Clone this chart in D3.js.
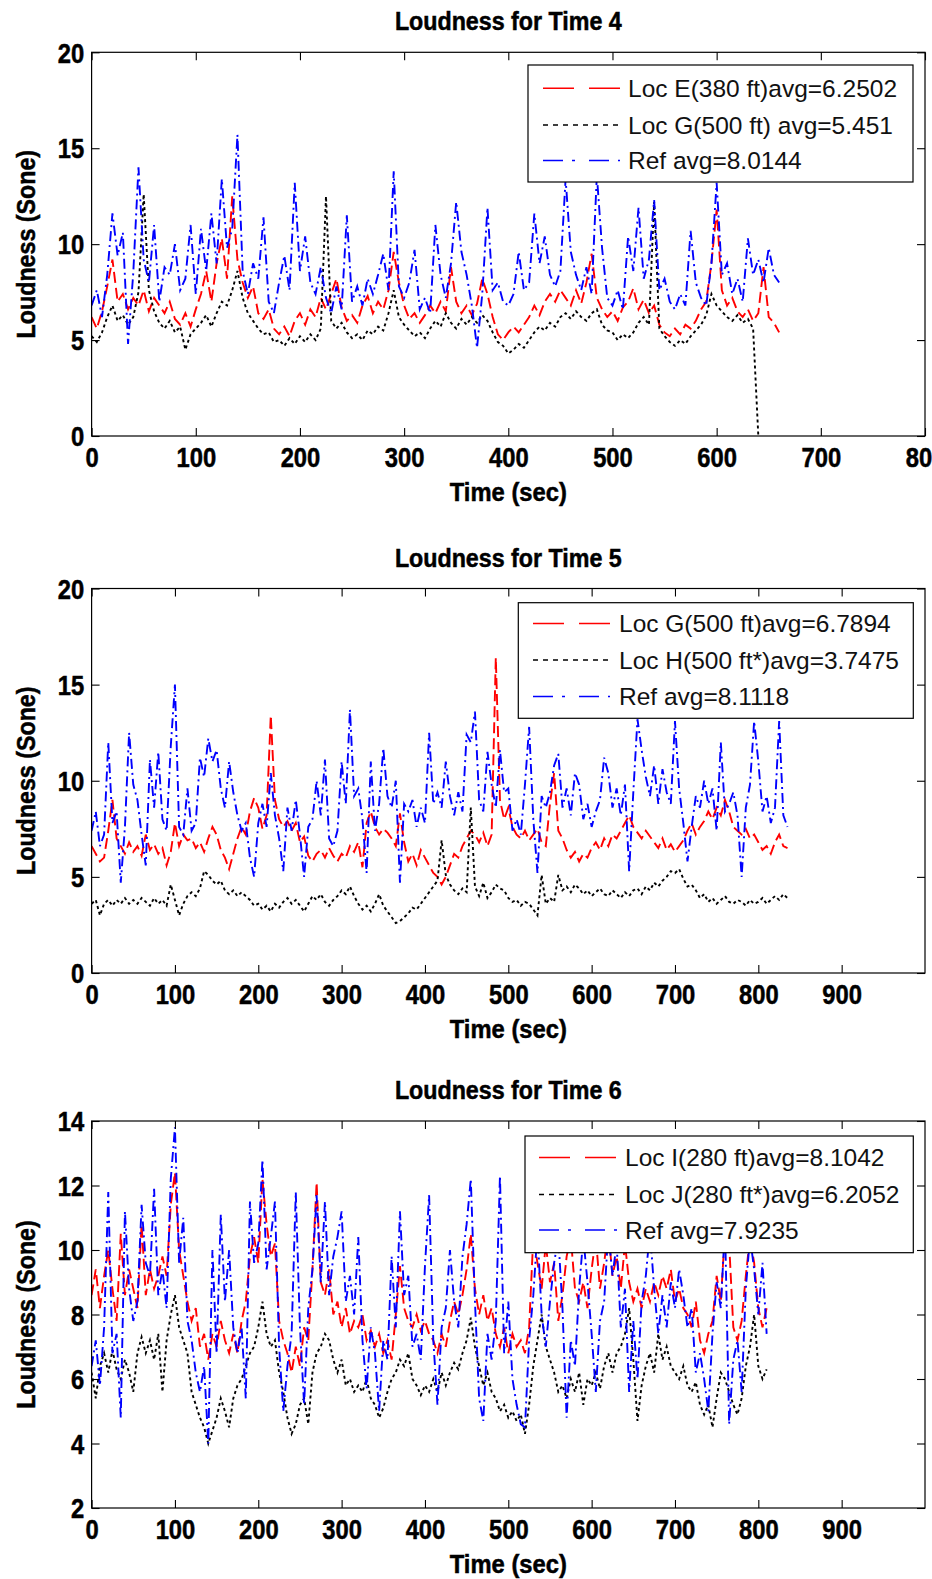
<!DOCTYPE html>
<html><head><meta charset="utf-8">
<script src="https://cdn.jsdelivr.net/npm/d3@7"></script>
<style>body{margin:0;background:#fff}svg{display:block}</style>
</head><body>
<script>
// sampling interval of every series (seconds)
const STEP = 5;

// ---------- Time 4 ----------
const t4Red = [
6.2,5.6,6.5,7.8,9.2,7.0,7.4,6.6,7.2,6.8,
7.6,6.5,7.2,6.8,6.4,7.0,6.1,5.8,6.4,5.7,
6.6,7.4,8.6,7.0,9.0,10.3,8.2,12.5,9.2,8.0,
7.2,7.8,6.4,6.1,6.6,5.6,5.3,5.7,5.2,6.0,
6.4,5.8,6.6,6.2,7.2,6.6,7.4,8.2,6.7,6.0,
6.3,5.9,6.8,7.3,6.4,7.0,6.6,7.6,9.6,8.0,
6.8,6.1,6.4,5.9,6.3,6.8,6.4,7.0,6.5,8.8,
7.0,6.4,6.8,6.3,6.9,8.2,7.4,6.2,5.3,5.0,
5.4,5.7,5.4,5.8,6.2,6.8,6.3,7.0,7.4,7.0,
7.6,7.2,6.8,7.6,6.9,8.0,9.5,7.2,6.6,6.2,
6.5,6.0,6.7,7.0,7.7,6.6,7.1,6.4,6.8,5.8,
5.4,5.2,5.6,5.3,5.8,5.6,6.0,6.6,7.0,9.0,
11.8,7.6,6.8,7.2,6.5,6.2,6.6,6.0,6.4,8.8,
6.2,5.9,5.4];
const t4Black = [
5.2,4.9,5.4,6.2,6.8,6.0,6.3,5.8,6.2,7.5,
12.6,7.6,6.5,5.9,5.6,6.0,5.4,5.7,4.5,5.3,
5.6,5.9,6.3,5.7,6.4,7.0,6.8,7.6,8.6,7.2,
6.4,6.0,5.6,5.3,5.4,4.9,5.0,4.7,5.1,4.8,
5.2,4.9,5.3,5.0,5.6,12.5,6.0,5.6,5.9,5.4,
5.1,5.3,5.0,5.5,5.3,5.7,5.5,6.4,7.6,6.2,
5.8,5.5,5.2,5.4,5.1,5.6,6.0,5.7,6.4,5.9,
5.6,6.1,5.8,6.2,5.9,6.3,6.0,5.4,4.9,4.7,
4.3,4.5,4.8,4.6,5.0,5.4,5.7,5.5,5.9,5.7,
6.2,6.4,6.1,6.5,6.2,6.0,6.4,6.6,5.8,5.5,
5.4,5.0,5.3,5.1,5.4,5.9,6.2,5.8,12.2,5.6,
5.2,4.9,4.7,5.0,4.8,5.2,5.5,5.8,6.3,7.4,
6.8,6.5,6.2,6.0,6.3,5.9,6.1,5.6,0];
const t4Ref = [
6.8,7.6,6.2,8.4,11.6,9.4,10.6,4.8,8.5,14.0,
9.2,8.0,11.0,7.0,8.8,8.4,10.0,7.6,8.2,11.0,
7.4,10.8,8.6,11.6,9.0,13.4,9.8,10.8,15.7,8.6,
7.4,9.0,8.2,11.4,7.0,6.4,8.0,9.4,7.6,13.2,
8.6,10.4,8.0,7.4,8.8,7.2,6.4,7.8,6.6,11.5,
7.0,7.8,6.8,8.2,7.4,8.4,9.5,7.6,13.8,7.8,
7.2,8.0,9.7,6.6,7.2,6.4,11.0,8.4,7.2,9.0,
12.2,9.6,8.4,6.8,4.6,7.4,11.9,7.6,8.0,7.0,
6.8,7.4,9.6,7.6,8.0,11.6,9.0,10.4,8.4,7.8,
8.6,13.4,9.6,8.4,7.6,8.8,7.4,13.6,9.8,7.2,
6.8,7.6,6.6,10.4,8.6,11.9,8.2,9.2,12.3,7.6,
8.2,7.0,6.6,7.4,6.8,10.7,8.0,7.2,6.8,9.0,
13.2,8.4,9.0,7.4,8.2,7.0,10.3,8.4,9.2,8.0,
9.8,8.4,8.0];

// ---------- Time 5 ----------
const t5Red = [
6.6,6.2,5.8,6.0,7.4,9.0,7.0,6.6,6.2,6.8,
6.3,6.6,6.1,7.2,6.4,6.7,6.2,6.5,5.6,6.3,
7.8,6.6,7.2,6.9,7.0,6.5,6.8,6.3,7.0,7.6,
7.2,6.4,6.0,5.4,6.2,7.0,7.6,7.2,8.4,9.1,
8.6,7.5,8.2,13.4,9.0,8.0,7.6,7.9,7.4,7.8,
6.8,7.1,6.1,5.8,6.2,6.4,6.0,6.5,6.1,5.8,
6.2,6.0,6.6,6.3,6.8,5.5,7.8,8.4,7.6,7.2,
7.5,7.3,7.0,6.6,8.3,6.8,5.8,6.2,5.6,6.4,
6.0,5.6,5.2,5.0,4.6,5.0,5.6,6.2,6.0,6.6,
7.0,7.4,7.2,6.8,7.3,6.6,7.2,16.4,9.0,8.0,
8.6,7.6,7.2,7.0,7.4,6.9,7.2,7.5,6.8,6.6,
8.8,10.4,7.4,7.0,6.4,6.0,6.3,5.8,6.2,6.0,
6.5,6.8,6.4,7.0,6.6,7.2,7.0,7.4,7.8,8.2,
7.6,7.3,7.0,7.4,7.1,6.8,6.5,7.0,6.4,6.7,
6.3,6.6,6.9,7.4,7.8,7.2,7.6,7.9,8.4,8.0,
8.6,8.2,9.0,8.4,7.6,7.4,7.2,7.5,7.0,7.2,
6.8,6.4,6.6,6.2,6.8,7.2,6.6,6.5];
const t5Black = [
3.6,3.8,3.0,3.6,3.8,3.5,3.8,3.6,3.9,3.6,
3.8,3.6,3.9,3.7,3.5,3.9,3.6,3.8,3.5,4.6,
3.8,3.0,3.6,4.0,4.2,4.0,4.4,5.3,5.1,4.8,
4.6,4.8,4.3,4.1,4.3,4.0,4.2,4.0,3.8,3.5,
3.6,3.3,3.5,3.2,3.6,3.4,3.7,3.9,3.6,3.8,
3.5,3.2,3.6,4.0,3.8,4.1,3.7,3.5,3.8,4.0,
4.3,4.1,4.5,4.0,3.6,3.3,3.5,3.2,3.6,4.1,
3.5,3.2,2.9,2.6,2.7,2.9,3.1,3.4,3.3,3.6,
3.9,4.2,4.5,4.8,6.9,5.1,4.6,4.3,4.1,4.4,
4.2,8.6,4.5,4.0,4.7,3.9,4.2,4.6,4.4,4.3,
3.9,3.7,3.8,3.5,3.7,3.6,3.3,3.0,5.1,3.6,
3.9,3.7,5.1,4.3,4.5,4.2,4.6,4.4,4.1,4.3,
4.0,4.2,4.4,4.1,4.0,4.3,4.1,3.9,4.2,4.0,
4.3,4.4,4.1,4.5,4.3,4.7,4.5,4.8,5.0,5.3,
5.2,5.4,4.9,4.5,4.6,4.3,3.9,4.1,3.7,3.9,
3.6,3.8,4.0,3.7,3.6,3.8,3.7,3.5,3.8,3.6,
3.7,3.9,3.6,3.8,4.0,3.8,4.1,3.9];
const t5Ref = [
7.4,8.4,6.6,7.2,12.0,7.8,8.4,4.7,7.6,12.5,
9.8,9.0,7.2,5.6,11.1,8.6,11.5,8.0,7.4,11.8,
15.0,7.6,7.2,9.6,7.4,7.8,11.2,10.2,12.2,11.0,
11.6,9.6,8.6,11.0,9.4,8.2,7.4,7.8,6.0,5.0,
7.8,8.8,7.6,10.4,8.2,7.0,5.3,8.6,7.4,9.0,
7.2,5.0,7.6,8.0,10.0,8.2,11.1,7.0,6.6,7.4,
11.0,8.8,13.7,9.2,9.6,8.0,5.2,11.0,7.4,8.8,
11.7,9.2,8.6,10.0,4.7,8.8,8.4,9.0,7.6,8.6,
7.8,12.5,8.8,9.4,8.6,11.0,9.2,8.2,9.4,8.4,
12.4,12.0,13.6,9.0,8.4,11.5,9.8,8.6,11.6,9.4,
9.6,7.4,8.0,7.2,9.8,12.8,8.0,5.2,9.2,8.6,
9.4,10.8,11.4,8.6,9.6,8.2,10.4,9.8,8.0,8.8,
7.6,8.4,9.0,11.2,10.4,8.6,9.6,8.2,9.8,5.3,
9.4,13.2,11.6,10.2,9.2,10.8,8.8,10.6,9.4,8.8,
13.1,9.6,7.8,5.8,7.6,9.2,8.6,10.0,8.8,9.6,
7.4,12.0,8.4,8.8,9.4,8.2,5.0,8.6,9.8,13.1,
11.0,8.4,9.2,7.8,8.6,13.1,8.2,7.6];

// ---------- Time 6 ----------
const t6Red = [
8.6,9.4,8.2,9.2,10.0,8.8,7.8,10.5,8.6,9.4,
8.8,8.2,10.8,8.6,9.4,8.8,9.2,9.8,9.2,11.4,
12.4,10.0,9.2,8.4,7.8,8.2,7.0,7.4,6.6,7.4,
7.0,7.8,7.2,6.8,7.4,6.8,7.8,8.4,9.8,10.4,
9.6,12.2,10.8,9.8,10.2,7.8,7.2,6.8,6.2,7.0,
6.4,7.6,7.2,9.4,12.1,9.0,8.6,9.4,8.0,8.4,
7.6,8.2,7.4,7.8,7.6,8.0,7.2,7.5,7.0,7.4,
6.8,7.2,6.6,8.0,9.5,8.2,7.8,7.6,8.0,7.5,
7.8,7.4,7.2,6.8,7.4,7.0,7.8,8.4,8.0,8.6,
9.4,10.5,8.8,8.0,8.6,7.8,8.2,7.4,7.0,7.6,
6.8,7.4,7.0,7.2,6.8,7.6,10.4,9.6,8.8,10.2,
9.0,9.6,7.8,8.6,9.8,10.4,8.8,8.4,9.0,8.2,
9.4,10.4,8.8,9.6,10.6,9.2,9.8,8.8,10.2,9.0,
8.4,8.8,8.2,8.8,8.4,9.0,8.6,9.2,8.8,9.4,
8.4,8.8,8.2,8.0,7.6,8.4,7.2,6.8,7.4,7.8,
9.2,8.4,10.6,10.2,7.6,7.2,7.8,9.2,10.4,9.6,
8.2,7.6,8.2];
const t6Black = [
6.2,5.4,6.4,6.8,6.2,6.9,6.3,6.0,6.6,6.2,
5.6,6.8,7.3,6.8,7.2,6.6,7.4,5.6,7.2,8.0,
8.6,7.6,7.2,6.8,5.6,5.2,4.8,4.5,4.0,4.4,
4.8,5.4,5.0,4.5,5.4,5.8,6.0,6.4,6.8,7.0,
7.6,8.4,7.4,7.0,7.2,6.2,5.6,4.8,4.3,4.6,
5.2,5.4,4.6,6.2,6.8,7.0,7.4,7.2,6.6,6.2,
6.6,5.8,6.0,5.6,5.8,5.6,6.0,5.4,5.2,4.8,
5.1,5.6,6.0,6.2,6.6,6.4,6.8,6.0,5.8,5.5,
5.8,5.6,6.0,5.6,6.2,5.8,6.2,6.5,6.3,6.8,
7.2,7.9,7.0,6.4,5.8,6.2,5.6,5.4,5.0,5.2,
4.8,5.0,4.7,4.9,4.3,5.2,6.4,7.2,8.0,7.0,
6.6,6.2,5.6,5.8,5.4,6.0,5.6,6.2,5.2,6.0,
5.8,6.2,5.7,6.4,6.8,6.2,6.8,7.0,7.4,8.2,
6.6,4.7,5.8,6.4,6.8,6.2,7.4,6.6,7.0,6.4,
6.2,6.0,6.4,5.8,5.6,5.9,5.2,4.9,5.2,4.5,
5.4,6.2,6.0,5.6,5.2,4.9,5.4,6.4,7.0,8.0,
6.4,6.0,6.3];
const t6Ref = [
6.4,7.2,5.8,7.6,11.8,6.8,7.4,4.8,11.2,8.8,
7.8,8.4,11.4,9.6,9.2,11.9,8.6,9.4,8.2,12.2,
13.8,9.6,11.0,7.8,7.2,6.2,5.6,6.4,4.0,10.0,
6.8,11.1,8.4,10.0,7.6,6.8,7.6,5.4,11.5,9.6,
10.2,12.8,9.4,10.4,11.5,7.0,5.0,6.4,7.4,11.8,
7.6,5.2,8.2,9.4,11.7,9.0,11.5,8.6,9.8,10.4,
11.2,8.4,9.2,8.0,10.4,7.2,5.7,7.6,6.8,5.0,
7.2,6.6,9.8,7.6,11.2,8.6,9.2,7.0,7.4,6.6,
9.5,11.7,7.2,5.2,7.6,8.2,10.0,8.4,7.6,9.8,
10.8,12.2,8.4,5.4,4.7,7.4,6.6,7.8,12.3,6.8,
8.4,6.0,5.2,4.6,4.5,7.2,8.6,10.6,8.0,7.0,
8.4,9.6,10.4,8.2,4.8,7.2,6.4,8.8,10.4,9.0,
7.4,5.6,7.8,8.4,10.6,9.2,10.2,7.6,8.8,5.6,
7.8,6.0,8.4,9.2,10.6,8.8,7.4,8.6,7.6,9.0,
8.2,9.4,8.6,7.6,8.2,6.2,6.8,6.0,5.0,7.4,
9.0,8.2,10.8,4.6,6.6,7.2,5.6,8.8,10.4,9.4,
8.0,9.6,7.4];

// ---------- text / ticks ----------
const titles = ['Loudness for Time 4','Loudness for Time 5','Loudness for Time 6'];
const xLabel = 'Time (sec)';
const yLabel = 'Loudness (Sone)';
const t4Legend = ['Loc E(380 ft)avg=6.2502','Loc G(500 ft) avg=5.451','Ref avg=8.0144'];
const t5Legend = ['Loc G(500 ft)avg=6.7894','Loc H(500 ft*)avg=3.7475','Ref avg=8.1118'];
const t6Legend = ['Loc I(280 ft)avg=8.1042','Loc J(280 ft*)avg=6.2052','Ref avg=7.9235'];
const xTicks4 = [0,100,200,300,400,500,600,700,800];
const xTicks56 = [0,100,200,300,400,500,600,700,800,900];
const yTicks45 = [0,5,10,15,20];
const yTicks6 = [2,4,6,8,10,12,14];

// ---------- styles ----------
const BOLD = "'Liberation Sans', Arial, Helvetica, sans-serif";
const colors = ['#ff0000','#000000','#0000ff'];
const dashData = ['11,5','3,3','10,4,2,4'];
const dashLegend = ['31,15','5,5','20,9,3,14'];

const L = 91.6, R = 925;
const panels = [
  {title:titles[0], xMax:800, xTicks:xTicks4, yDom:[0,20], yTicks:yTicks45, top:52.3, bottom:436,
   series:[t4Red,t4Black,t4Ref], labels:t4Legend,
   leg:{x:528, y:65, w:385, h:117, lx0:543, lx1:620, tx:628, rows:[88.3,125,160.5]}},
  {title:titles[1], xMax:1000, xTicks:xTicks56, yDom:[0,20], yTicks:yTicks45, top:588.5, bottom:973,
   series:[t5Red,t5Black,t5Ref], labels:t5Legend,
   leg:{x:518.3, y:602.7, w:395, h:115.6, lx0:533, lx1:610, tx:619, rows:[623.5,660,696.5]}},
  {title:titles[2], xMax:1000, xTicks:xTicks56, yDom:[2,14], yTicks:yTicks6, top:1121, bottom:1508,
   series:[t6Red,t6Black,t6Ref], labels:t6Legend,
   leg:{x:525, y:1136, w:388.3, h:116.7, lx0:539, lx1:617, tx:625, rows:[1157.5,1194.5,1230]}}
];

const svg = d3.select('body').append('svg').attr('width',932).attr('height',1579);
svg.append('rect').attr('width',932).attr('height',1579).attr('fill','#fff');

function boldText(g, str, x, y, size, sx, anchor, rot){
  return g.append('text')
    .attr('transform', `translate(${x},${y})` + (rot ? ` rotate(${rot})` : '') + ` scale(${sx},1)`)
    .attr('text-anchor', anchor).attr('font-family', BOLD).attr('font-weight','bold')
    .attr('font-size', size).attr('fill','#000').attr('stroke','#000').attr('stroke-width',0.5)
    .text(str);
}

panels.forEach((p, pi) => {
  const x = d3.scaleLinear().domain([0, p.xMax]).range([L, R]);
  const y = d3.scaleLinear().domain(p.yDom).range([p.bottom, p.top]);
  const g = svg.append('g');
  const cx = (L + R) / 2;

  const clipId = 'clip' + pi;
  g.append('clipPath').attr('id', clipId).append('rect')
    .attr('x', L).attr('y', p.top).attr('width', R - L).attr('height', p.bottom - p.top);

  // series: red, black, blue (blue on top)
  const line = d3.line().x((d,i) => x(i * STEP)).y(d => y(d));
  p.series.forEach((s, si) => {
    g.append('path').datum(s).attr('d', line).attr('fill','none')
      .attr('stroke', colors[si]).attr('stroke-width', 1.9)
      .attr('stroke-dasharray', dashData[si]).attr('clip-path', `url(#${clipId})`);
  });

  // axes
  const styleAxis = (ax) => { ax.select('.domain').remove(); ax.selectAll('.tick line').attr('stroke','#000').attr('stroke-width',1.1); };
  const gb = g.append('g').attr('transform', `translate(0,${p.bottom})`)
    .call(d3.axisBottom(x).tickValues(p.xTicks).tickSizeInner(-8).tickSizeOuter(0).tickFormat(d3.format('d')));
  styleAxis(gb);
  gb.attr('font-size', 27).attr('font-family', BOLD).attr('font-weight','bold');
  gb.selectAll('.tick text').attr('y', 31.5).attr('dy', null).attr('fill','#000')
    .attr('stroke','#000').attr('stroke-width',0.5).attr('transform','scale(0.88,1)');

  const gt = g.append('g').attr('transform', `translate(0,${p.top})`)
    .call(d3.axisTop(x).tickValues(p.xTicks).tickSizeInner(-8).tickSizeOuter(0).tickFormat(() => ''));
  styleAxis(gt);

  const gl = g.append('g').attr('transform', `translate(${L},0)`)
    .call(d3.axisLeft(y).tickValues(p.yTicks).tickSizeInner(-8).tickSizeOuter(0).tickFormat(d3.format('d')));
  styleAxis(gl);
  gl.attr('font-size', 27).attr('font-family', BOLD).attr('font-weight','bold');
  gl.selectAll('.tick text').attr('x', -8.5).attr('dy','0.36em').attr('fill','#000')
    .attr('stroke','#000').attr('stroke-width',0.5).attr('transform','scale(0.88,1)');

  const gr = g.append('g').attr('transform', `translate(${R},0)`)
    .call(d3.axisRight(y).tickValues(p.yTicks).tickSizeInner(-8).tickSizeOuter(0).tickFormat(() => ''));
  styleAxis(gr);

  g.append('rect').attr('x', L).attr('y', p.top).attr('width', R - L).attr('height', p.bottom - p.top)
    .attr('fill','none').attr('stroke','#000').attr('stroke-width',1.2);

  // labels
  boldText(g, p.title, cx, p.top - 22, 25, 0.93, 'middle');
  boldText(g, xLabel, cx, p.bottom + 65, 25, 0.95, 'middle');
  boldText(g, yLabel, 35, (p.top + p.bottom) / 2, 25, 0.93, 'middle', -90);

  // legend
  const lg = p.leg;
  const gLeg = g.append('g');
  gLeg.append('rect').attr('x', lg.x).attr('y', lg.y).attr('width', lg.w).attr('height', lg.h)
    .attr('fill','#fff').attr('stroke','#000').attr('stroke-width',1.2);
  p.labels.forEach((lab, li) => {
    const ry = lg.rows[li];
    gLeg.append('line').attr('x1', lg.lx0).attr('x2', lg.lx1).attr('y1', ry).attr('y2', ry)
      .attr('stroke', colors[li]).attr('stroke-width', 1.5).attr('stroke-dasharray', dashLegend[li]);
    gLeg.append('text').attr('x', lg.tx).attr('y', ry + 8.6)
      .attr('font-family', "'Liberation Sans', Arial, sans-serif").attr('font-size', 24.5)
      .attr('fill','#111').text(lab);
  });
});
</script>
</body></html>
